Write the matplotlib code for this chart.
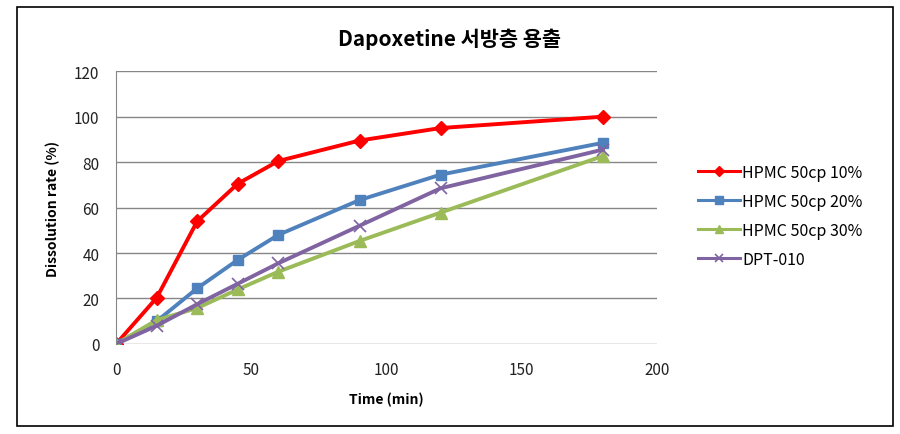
import matplotlib
matplotlib.use('Agg')
import matplotlib.pyplot as plt
from matplotlib.patches import Rectangle

plt.rcParams['font.family'] = ['Noto Sans CJK KR', 'DejaVu Sans']

# dissolution data
time_min = [0, 15, 30, 45, 60, 90, 120, 180]
hpmc_10 = [0, 20.3, 54, 70.5, 80.5, 89.5, 95, 100]
hpmc_20 = [0, 10, 24.5, 37, 48, 63.3, 74.5, 88.5]
hpmc_30 = [0, 10.5, 15.8, 24, 31.8, 45.3, 57.8, 82.7]
dpt_010 = [0, 8, 17.5, 26.5, 35.5, 52, 68.5, 85.5]
labels = ['HPMC 50cp 10%', 'HPMC 50cp 20%', 'HPMC 50cp 30%', 'DPT-010']

fig = plt.figure(figsize=(9, 4.35), dpi=100)
ax = fig.add_axes([0.129, 0.207, 0.601, 0.627])

# outer chart border
fig.patches.append(Rectangle((0.019, 0.018), 0.973, 0.963, transform=fig.transFigure,
                             fill=False, edgecolor='black', linewidth=1.2))

ax.plot(time_min, hpmc_10, color='#ff0000', marker='D', markersize=7, linewidth=2.8, label=labels[0])
ax.plot(time_min, hpmc_20, color='#4f81bd', marker='s', markersize=7, linewidth=2.8, label=labels[1])
ax.plot(time_min, hpmc_30, color='#9bbb59', marker='^', markersize=8, linewidth=2.8, label=labels[2])
ax.plot(time_min, dpt_010, color='#8064a2', marker='x', markersize=8, markeredgewidth=1.2,
        linewidth=2.8, label=labels[3])

ax.set_xlim(0, 200)
ax.set_ylim(0, 120)
ax.set_xticks([0, 50, 100, 150, 200])
ax.set_yticks(range(0, 121, 20))
ax.grid(axis='y', color='#868686', linewidth=1)
ax.set_axisbelow(True)
for s in ['top', 'right', 'bottom']:
    ax.spines[s].set_visible(False)
ax.spines['left'].set_color('#868686')
ax.tick_params(axis='both', length=0, labelsize=11, colors='#222222')
ax.tick_params(axis='x', pad=12)
ax.tick_params(axis='y', pad=12)

ax.set_xlabel('Time (min)', fontsize=10, fontweight='bold', labelpad=10)
ax.set_ylabel('Dissolution rate (%)', fontsize=10, fontweight='bold', labelpad=10)
fig.text(0.5, 0.91, 'Dapoxetine 서방층 용출', ha='center', va='center',
         fontsize=15, fontweight='bold')

leg = ax.legend(loc='center left', bbox_to_anchor=(1.05, 0.47), frameon=False,
                fontsize=11.5, handlelength=2.6, handletextpad=0.15, labelspacing=0.75,
                markerscale=0.75)
for h in leg.get_lines():
    h.set_linewidth(2.2)

fig.savefig('out.png', dpi=100)
